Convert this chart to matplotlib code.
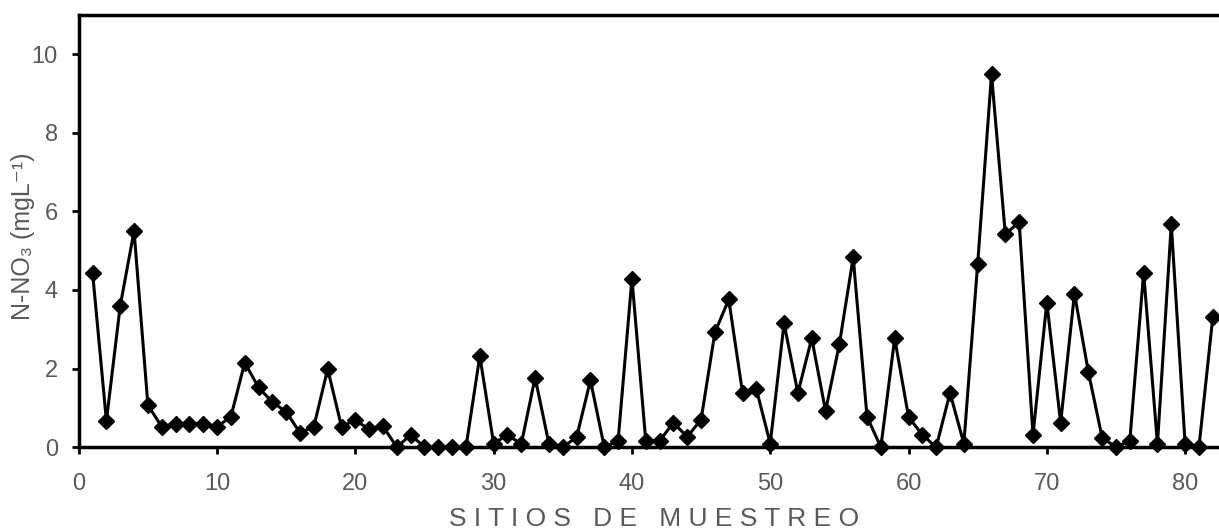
import matplotlib
matplotlib.use("Agg")
import matplotlib.pyplot as plt

# N-NO3 concentration per sampling site
sitios = list(range(1, 83))
nitrato = [
    4.44, 0.67, 3.60, 5.50, 1.07, 0.52, 0.60, 0.60, 0.60, 0.52,
    0.77, 2.15, 1.52, 1.14, 0.90, 0.36, 0.52, 1.99, 0.52, 0.69,
    0.45, 0.53, 0.00, 0.31, 0.00, 0.00, 0.00, 0.00, 2.32, 0.09,
    0.31, 0.08, 1.77, 0.08, 0.00, 0.25, 1.70, 0.00, 0.16, 4.29,
    0.16, 0.16, 0.62, 0.26, 0.70, 2.92, 3.76, 1.38, 1.47, 0.09,
    3.15, 1.38, 2.77, 0.92, 2.62, 4.83, 0.77, 0.00, 2.77, 0.77,
    0.31, 0.00, 1.38, 0.09, 4.67, 9.49, 5.42, 5.73, 0.31, 3.68,
    0.62, 3.91, 1.92, 0.24, 0.00, 0.16, 4.44, 0.08, 5.67, 0.08,
    0.00, 3.30,
]
x_ticks = [0, 10, 20, 30, 40, 50, 60, 70, 80]
y_ticks = [0, 2, 4, 6, 8, 10]

plt.rcParams["font.family"] = ["Liberation Sans Narrow", "Liberation Sans", "DejaVu Sans"]
gray = "#595959"

fig = plt.figure(figsize=(12.19, 5.31), dpi=100)
ax = fig.add_axes([0.0646, 0.158, 0.9354, 0.8137])

ax.plot(sitios, nitrato, color="black", lw=2.2, marker="D", markersize=8,
        markerfacecolor="black", markeredgecolor="black", clip_on=False, zorder=3)

ax.set_xlim(0, 82.45)
ax.set_ylim(0, 11)
ax.set_xticks(x_ticks)
ax.set_yticks(y_ticks)

for side in ("left", "bottom", "top"):
    ax.spines[side].set_linewidth(2.5)
    ax.spines[side].set_color("black")
ax.spines["right"].set_visible(False)

ax.tick_params(axis="both", direction="out", length=5, width=2, color="black",
               labelsize=17, labelcolor=gray)
ax.tick_params(axis="x", pad=14)
ax.tick_params(axis="y", pad=10)

# axis titles placed in figure coordinates
fig.text(654 / 1219, 5 / 531, "S I T I O S   D E   M U E S T R E O",
         fontsize=19, color=gray, ha="center", va="baseline")
fig.text(23 / 1219, 1 - 236 / 531, "N-NO\u2083 (mgL\u207b\u00b9)", fontsize=18,
         color=gray, rotation=90, ha="center", va="center")

fig.savefig("out.png", dpi=100)
